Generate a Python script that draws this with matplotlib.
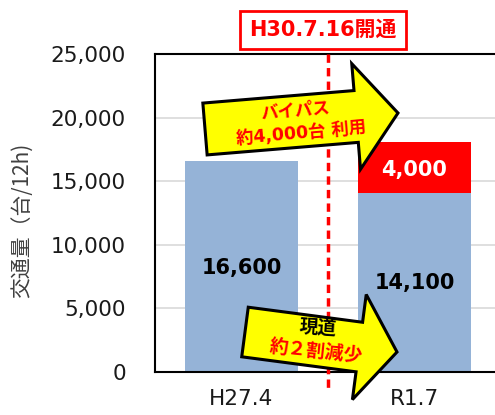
import numpy as np
import matplotlib
matplotlib.use("Agg")
import matplotlib.pyplot as plt
from matplotlib.patches import Polygon

categories = ["H27.4", "R1.7"]
road_now = [16600, 14100]
bypass = [0, 4000]
y_ticks = [0, 5000, 10000, 15000, 20000, 25000]

W, H = 495, 415
JP = ["Noto Sans CJK JP", "DejaVu Sans"]
LAT = ["DejaVu Sans", "Noto Sans CJK JP"]

fig = plt.figure(figsize=(W / 100, H / 100), dpi=100)
ax = fig.add_axes([155 / W, 1 - 372 / H, 346 / W, 318 / H])

x = np.arange(len(categories))
ax.bar(x, road_now, width=0.655, color="#95b3d7", zorder=2)
ax.bar(x, bypass, bottom=road_now, width=0.655, color="#ff0000", zorder=2)

ax.set_xlim(-0.5, 1.5)
ax.set_ylim(0, 25000)
ax.set_yticks(y_ticks)
ax.set_yticklabels([f"{v:,}" for v in y_ticks])
ax.set_xticks(x)
ax.set_xticklabels(categories)
ax.tick_params(length=0, labelsize=15.5, colors="#1a1a1a")
ax.tick_params(axis="y", pad=21)
ax.tick_params(axis="x", pad=12)
ax.yaxis.grid(True, color="#d9d9d9", lw=1.2, zorder=0)
for s in ["left", "bottom", "top"]:
    ax.spines[s].set_linewidth(1.5)
ax.spines["right"].set_visible(False)
ax.set_ylabel("交通量（台/12h)", family=JP, fontsize=15, color="#404040")
ax.yaxis.set_label_coords((34 - 155) / 346, (372 - 220) / 318)

# bar values
ax.text(0, 8150, f"{road_now[0]:,}", ha="center", va="center", fontsize=15,
        fontweight="bold", zorder=5)
ax.text(1, 7000, f"{road_now[1]:,}", ha="center", va="center", fontsize=15,
        fontweight="bold", zorder=5)
ax.text(1, road_now[1] + bypass[1] / 2 - 250, f"{bypass[1]:,}", ha="center",
        va="center", fontsize=15, fontweight="bold", color="white", zorder=5)

# opening date line
ax.plot([0.5, 0.5], [25000, -1600], color="red", lw=2.5, ls=(0, (2.4, 1.5)),
        clip_on=False, zorder=3)
fig.text(323 / W, 1 - 30 / H, "H30.7.16開通", family=LAT, fontsize=15,
         fontweight="bold", color="red", ha="center", va="center",
         bbox=dict(boxstyle="square,pad=0.45", fc="white", ec="red", lw=2))


def block_arrow(tail, tip, half_w, head_len, head_hw):
    t = np.array(tail, float)
    p = np.array(tip, float)
    d = p - t
    L = np.hypot(*d)
    u = d / L
    n = np.array([-u[1], u[0]])
    sh = t + u * (L - head_len)
    pts = [t - n * half_w, sh - n * half_w, sh - n * head_hw, p,
           sh + n * head_hw, sh + n * half_w, t + n * half_w]
    pts = [(q[0] / W, 1 - q[1] / H) for q in pts]
    fig.add_artist(Polygon(pts, closed=True, fc="#ffff00", ec="black", lw=2.2,
                           transform=fig.transFigure, zorder=6))


block_arrow((205, 129), (398, 113), 26, 42, 53)
block_arrow((245, 332), (397, 352), 25, 38, 53)

fig.text(295 / W, 1 - 111 / H, "バイパス", family=JP, fontsize=12.5, fontweight="bold",
         color="red", ha="center", va="center", rotation=5, zorder=7)
fig.text(301 / W, 1 - 133 / H, "約4,000台 利用", family=LAT, fontsize=12.5,
         fontweight="bold", color="red", ha="center", va="center", rotation=5, zorder=7)
fig.text(318 / W, 1 - 329 / H, "現道", family=JP, fontsize=13.5, fontweight="bold",
         color="black", ha="center", va="center", rotation=-4, zorder=7)
fig.text(316 / W, 1 - 351 / H, "約２割減少", family=JP, fontsize=13.5,
         fontweight="bold", color="red", ha="center", va="center", rotation=-6, zorder=7)

fig.savefig("out.png", dpi=100)
